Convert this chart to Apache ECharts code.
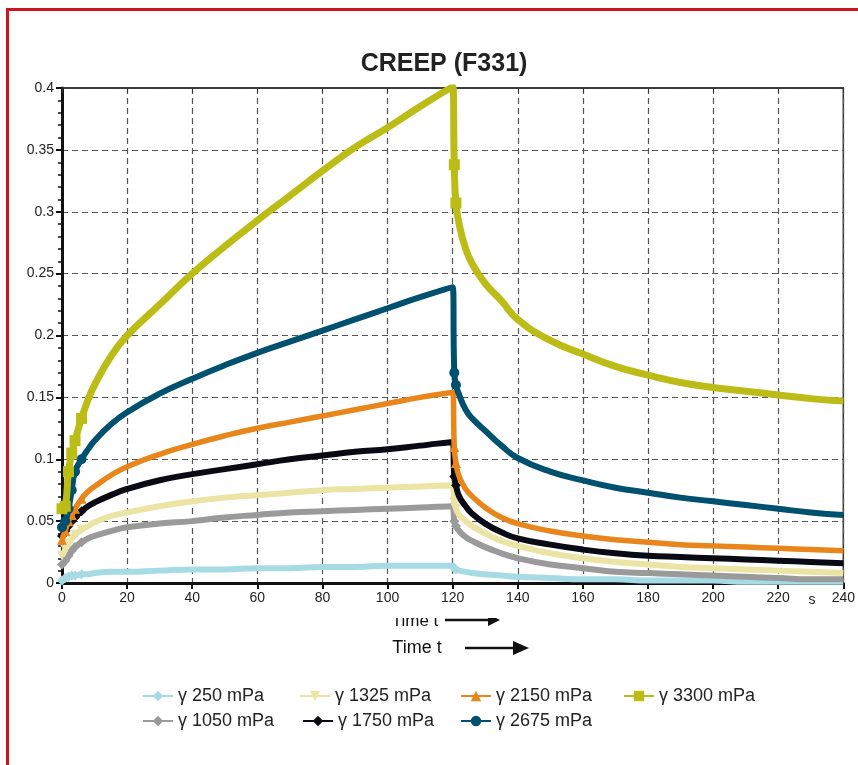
<!DOCTYPE html>
<html>
<head>
<meta charset="utf-8">
<script src="https://cdn.jsdelivr.net/npm/echarts@6/dist/echarts.min.js"></script>
<style>
html,body{margin:0;padding:0;background:#fff;}
#c{width:858px;height:765px;}
</style>
</head>
<body>
<div id="c"></div>
<script>
const title = 'CREEP (F331)';
const xTicks = [0,20,40,60,80,100,120,140,160,180,200,220,240];
const T = [0,1,2,3,4,6,8,10,15,20,30,40,50,60,70,80,90,100,110,120,120.5,121,122,124,126,130,135,140,150,160,170,180,190,200,210,220,230,240];

const s250  = [0.002,0.004,0.005,0.006,0.006,0.007,0.007,0.008,0.009,0.009,0.010,0.011,0.011,0.012,0.012,0.013,0.013,0.014,0.014,0.014,0.012,0.011,0.010,0.009,0.008,0.007,0.006,0.005,0.004,0.003,0.003,0.002,0.002,0.002,0.001,0.001,0.001,0.001];
const s1050 = [0.015,0.018,0.022,0.026,0.029,0.033,0.036,0.038,0.042,0.045,0.048,0.050,0.053,0.055,0.057,0.058,0.059,0.060,0.061,0.062,0.050,0.046,0.042,0.037,0.034,0.029,0.024,0.020,0.015,0.012,0.009,0.008,0.007,0.006,0.005,0.004,0.003,0.003];
const s1325 = [0.022,0.027,0.032,0.036,0.039,0.043,0.046,0.049,0.054,0.057,0.062,0.066,0.069,0.071,0.073,0.075,0.076,0.077,0.078,0.079,0.065,0.060,0.055,0.050,0.046,0.040,0.034,0.030,0.024,0.020,0.017,0.015,0.013,0.012,0.011,0.010,0.009,0.008];
const s1750 = [0.038,0.042,0.046,0.050,0.053,0.058,0.062,0.065,0.071,0.076,0.083,0.088,0.092,0.096,0.100,0.103,0.106,0.108,0.111,0.114,0.086,0.079,0.070,0.062,0.056,0.048,0.041,0.036,0.031,0.027,0.024,0.022,0.021,0.020,0.019,0.018,0.017,0.016];
const s2150 = [0.035,0.042,0.050,0.055,0.060,0.068,0.074,0.078,0.087,0.094,0.104,0.112,0.119,0.125,0.130,0.135,0.140,0.145,0.150,0.154,0.110,0.097,0.086,0.076,0.070,0.061,0.053,0.048,0.042,0.038,0.035,0.033,0.031,0.030,0.029,0.028,0.027,0.026];
const s2675 = [0.045,0.050,0.060,0.075,0.090,0.100,0.108,0.115,0.128,0.138,0.153,0.165,0.176,0.186,0.195,0.204,0.213,0.222,0.231,0.239,0.170,0.160,0.152,0.140,0.133,0.123,0.111,0.101,0.090,0.083,0.077,0.073,0.069,0.066,0.063,0.060,0.057,0.055];
const s3300 = [0.060,0.062,0.090,0.105,0.115,0.133,0.148,0.160,0.183,0.200,0.225,0.250,0.272,0.293,0.313,0.333,0.352,0.368,0.385,0.401,0.338,0.307,0.290,0.270,0.258,0.242,0.228,0.213,0.196,0.185,0.175,0.168,0.162,0.158,0.155,0.152,0.149,0.147];

const names = ['γ 250 mPa','γ 1050 mPa','γ 1325 mPa','γ 1750 mPa','γ 2150 mPa','γ 2675 mPa','γ 3300 mPa'];
const colors = ['#a6dbe6','#9a9a9a','#ece4a4','#0a0a14','#e8861c','#00506f','#bcbc16'];
const symbols = ['diamond','diamond','triangle','diamond','triangle','circle','rect'];
const rotates = [0,0,180,0,0,0,0];
const widths = [6,6,6,6,5.5,6,7];
const values = [s250,s1050,s1325,s1750,s2150,s2675,s3300];
const markIdx = [0,1,2,3,4,5,20,21];

const series = values.map((v,i)=>({
  name:names[i], type:'line', smooth:0.5,
  symbol:symbols[i], symbolRotate:rotates[i], symbolSize: i===6?11:10,
  showSymbol:true,
  lineStyle:{width:widths[i],color:colors[i]},
  itemStyle:{color:colors[i]},
  z:2+i,
  data:T.map((t,k)=>{
    const d={value:[t,v[k]]};
    if(markIdx.indexOf(k)<0){d.symbol='none';}
    return d;
  })
}));

// legend slots: series index -> [left, top]
const legendPos = {0:[137,682],2:[294,682],4:[455,682],6:[618,682],1:[137,707],3:[297,707],5:[455,707]};
const legText = {fontFamily:'Liberation Sans, Arial, sans-serif', fontSize:18, color:'#222'};
const legends = Object.keys(legendPos).map(k=>({
  data:[names[k]], left:legendPos[k][0], top:legendPos[k][1],
  itemWidth:30, itemHeight:13, textStyle:legText
}));

const chart = echarts.init(document.getElementById('c'));
const lblFont = {fontFamily:'Liberation Sans, Arial, sans-serif', fontSize:14, color:'#222'};
chart.setOption({
  animation:false,
  backgroundColor:'#fff',
  title:{text:title,left:439,top:47,textAlign:'center',
    textStyle:{fontFamily:'Liberation Sans, Arial, sans-serif',fontSize:25,fontWeight:'bold',color:'#222'}},
  grid:{left:62,right:14,top:88,bottom:182,show:true,borderColor:'#333',borderWidth:1.5},
  legend:legends,
  xAxis:[{
    type:'value',min:0,max:240,interval:20,
    axisLine:{show:true,lineStyle:{color:'#111',width:3}},
    axisTick:{show:true,length:6,lineStyle:{color:'#111',width:2}},
    axisLabel:Object.assign({},lblFont,{margin:8}),
    splitLine:{show:true,lineStyle:{color:'#555',type:[6,4],width:1.2}}
  },{
    type:'value',min:0,max:240,interval:20,position:'top',
    axisLine:{show:true,lineStyle:{color:'#333',width:1.5}},
    axisTick:{show:true,inside:true,length:5,lineStyle:{color:'#333'}},
    axisLabel:{show:false},splitLine:{show:false}
  }],
  yAxis:{
    type:'value',min:0,max:0.4,interval:0.05,
    axisLine:{show:true,lineStyle:{color:'#111',width:3}},
    axisTick:{show:true,length:6,lineStyle:{color:'#111',width:2}},
    minorTick:{show:true,splitNumber:5,length:4,lineStyle:{color:'#111',width:1.5}},
    axisLabel:Object.assign({},lblFont,{margin:8}),
    splitLine:{show:true,lineStyle:{color:'#555',type:[6,4],width:1.2}}
  },
  series:series,
  graphic:[
    {type:'rect',shape:{x:6,y:8,width:852,height:3},style:{fill:'#d0141e'},z:100},
    {type:'rect',shape:{x:6,y:8,width:3,height:757},style:{fill:'#d0141e'},z:100},
    {type:'text',x:812,y:600,style:{text:'s',font:'14px Liberation Sans, Arial',fill:'#222',textAlign:'center',textVerticalAlign:'middle'},z:50},
    {type:'text',x:415,y:621,style:{text:'Time t',font:'17px Liberation Sans, Arial',fill:'#111',textAlign:'center',textVerticalAlign:'middle'},z:50},
    {type:'line',shape:{x1:445,y1:620,x2:490,y2:620},style:{stroke:'#111',lineWidth:2.5},z:50},
    {type:'polygon',shape:{points:[[488,614],[500,620],[488,626]]},style:{fill:'#111'},z:50},
    {type:'rect',shape:{x:370,y:610,width:140,height:8},style:{fill:'#fff'},z:60},
    {type:'text',x:417,y:648,style:{text:'Time t',font:'18px Liberation Sans, Arial',fill:'#111',textAlign:'center',textVerticalAlign:'middle'},z:50},
    {type:'line',shape:{x1:465,y1:648,x2:515,y2:648},style:{stroke:'#111',lineWidth:2.5},z:50},
    {type:'polygon',shape:{points:[[513,641],[529,648],[513,655]]},style:{fill:'#111'},z:50}
  ]
});
</script>
</body>
</html>
